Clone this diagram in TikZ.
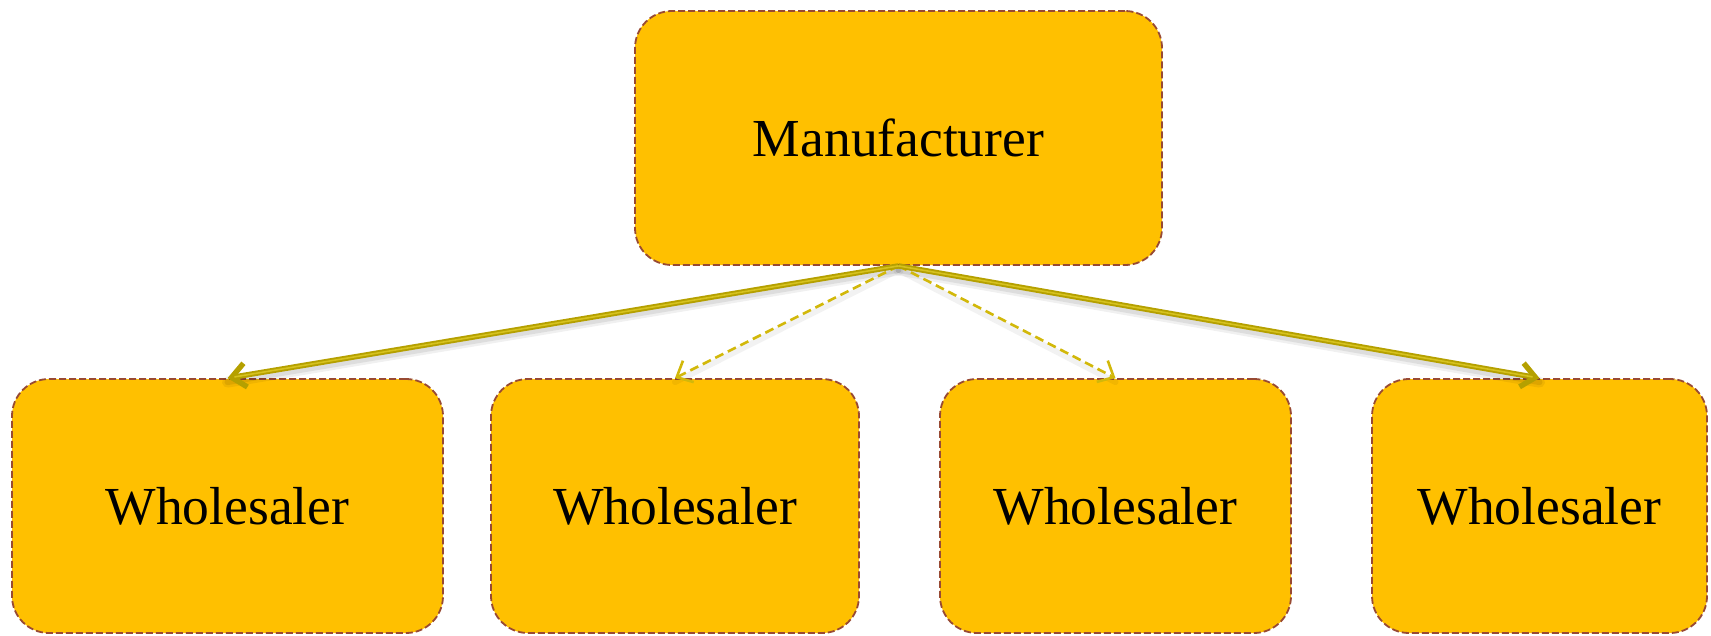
\documentclass[tikz,border=0pt]{standalone}
\usepackage{fontspec}
\setmainfont{Liberation Serif}
\usetikzlibrary{arrows.meta}
\definecolor{boxfill}{HTML}{FFC000}
\definecolor{boxedge}{HTML}{984A33}
\definecolor{linkdark}{HTML}{B5A000}
\definecolor{linklight}{HTML}{D6C21E}
\definecolor{linkdash}{HTML}{D2B80A}
\begin{document}
\begin{tikzpicture}[x=1pt,y=-1pt,
  unitbox/.style={draw=boxedge, fill=boxfill, line width=1.8pt,
    dash pattern=on 7pt off 3pt, rounded corners=37pt, inner sep=0pt,
    minimum height=254pt, font=\fontsize{53.5}{60}\selectfont},
  linkshadow/.style={draw=black, line cap=round, transform canvas={yshift=-4pt}},
  mainlink/.style={draw=linkdark, line width=5.4pt,
    -{Straight Barb[length=14pt,width=24pt]}},
  mainglint/.style={draw=linklight, line width=1.6pt, shorten >=7pt},
  sidelink/.style={draw=linkdash, line width=2.6pt, dash pattern=on 9pt off 5pt,
    -{Straight Barb[length=13pt,width=24pt]}}
]
\useasboundingbox (0,0) rectangle (1711,635);

% top box
\node[unitbox, minimum width=527pt] (maker) at (898.5,138) {Manufacturer};
% bottom row
\node[unitbox, minimum width=431pt] (w1) at (227.5,506) {Wholesaler};
\node[unitbox, minimum width=368pt] (w2) at (675,506) {Wholesaler};
\node[unitbox, minimum width=351pt] (w3) at (1115.5,506) {Wholesaler};
\node[unitbox, minimum width=335pt] (w4) at (1539.5,506) {Wholesaler};

% soft shadows under the connectors
\foreach \t in {w1,w4}{
  \draw[linkshadow, opacity=0.06, line width=11pt] (maker.south) -- (\t.north);
  \draw[linkshadow, opacity=0.08, line width=6pt] (maker.south) -- (\t.north);
}
\foreach \t in {w2,w3}{
  \draw[linkshadow, opacity=0.05, line width=6pt] (maker.south) -- (\t.north);
}

% connectors
\draw[sidelink] (maker.south) -- (w2.north);
\draw[sidelink] (maker.south) -- (w3.north);
\draw[mainlink] (maker.south) -- (w1.north);
\draw[mainlink] (maker.south) -- (w4.north);
\draw[mainglint] (maker.south) -- (w1.north);
\draw[mainglint] (maker.south) -- (w4.north);
\end{tikzpicture}
\end{document}
